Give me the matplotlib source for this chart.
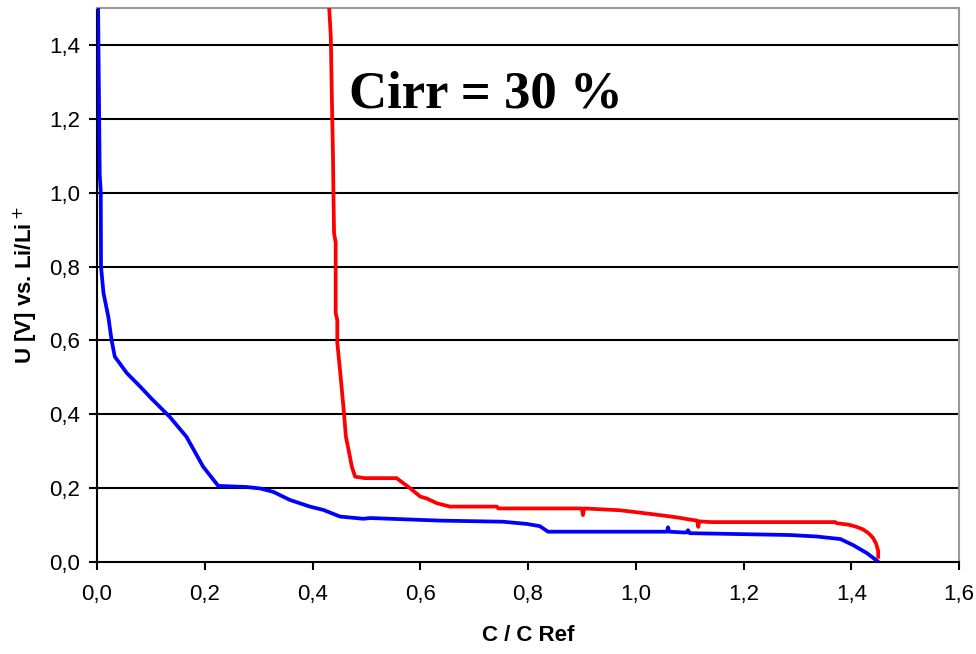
import numpy as np
import matplotlib
matplotlib.use('Agg')
import matplotlib.pyplot as plt
from matplotlib.ticker import FuncFormatter

plt.rcParams['font.family'] = 'Liberation Sans'

# Blue curve (C / C Ref, U)
blue_x = [0.002, 0.004, 0.005, 0.007, 0.0074, 0.012, 0.021, 0.027, 0.033, 0.055,
          0.080, 0.100, 0.135, 0.166, 0.197, 0.225, 0.278, 0.303, 0.327, 0.358,
          0.395, 0.420, 0.451, 0.494, 0.507, 0.637, 0.754, 0.798, 0.822, 0.837,
          1.058, 1.060, 1.062, 1.088, 1.095, 1.097, 1.100, 1.286, 1.336, 1.380,
          1.403, 1.429, 1.448]
blue_y = [1.50, 1.20, 1.05, 1.00, 0.80, 0.728, 0.664, 0.601, 0.556, 0.512,
          0.475, 0.444, 0.393, 0.339, 0.258, 0.206, 0.203, 0.199, 0.190, 0.168,
          0.150, 0.141, 0.123, 0.117, 0.119, 0.112, 0.109, 0.103, 0.097, 0.082,
          0.082, 0.094, 0.082, 0.080, 0.080, 0.086, 0.078, 0.073, 0.069, 0.062,
          0.046, 0.024, 0.003]

# Red curve
red_x = [0.431, 0.434, 0.436, 0.438, 0.439, 0.440, 0.443, 0.443, 0.446, 0.446,
         0.451, 0.455, 0.458, 0.462, 0.467, 0.473, 0.479, 0.497, 0.556, 0.581,
         0.600, 0.612, 0.631, 0.655, 0.742, 0.745, 0.900, 0.902, 0.904, 0.971,
         1.000, 1.055, 1.080, 1.100, 1.114, 1.116, 1.118, 1.140, 1.370, 1.373,
         1.395, 1.410, 1.422, 1.432, 1.440, 1.446, 1.450, 1.450]
red_y = [1.50, 1.42, 1.25, 1.10, 0.98, 0.89, 0.865, 0.674, 0.655, 0.593,
         0.520, 0.457, 0.410, 0.339, 0.303, 0.258, 0.231, 0.227, 0.227, 0.200,
         0.177, 0.172, 0.159, 0.150, 0.150, 0.145, 0.145, 0.127, 0.145, 0.140,
         0.135, 0.125, 0.120, 0.115, 0.112, 0.095, 0.110, 0.108, 0.108, 0.105,
         0.101, 0.095, 0.088, 0.078, 0.066, 0.050, 0.030, 0.014]

x_ticks = [0.0, 0.2, 0.4, 0.6, 0.8, 1.0, 1.2, 1.4, 1.6]
y_ticks = [0.0, 0.2, 0.4, 0.6, 0.8, 1.0, 1.2, 1.4]

fig = plt.figure(figsize=(9.76, 6.54), dpi=100)
ax = fig.add_axes([0.0994, 0.1407, 0.8832, 0.8471])

for y in y_ticks[1:]:
    ax.axhline(y, color='black', linewidth=1.5, zorder=1)

ax.plot(blue_x, blue_y, color='#0000ff', linewidth=2.7, zorder=3)
ax.plot(red_x, red_y, color='#ff0000', linewidth=2.7, zorder=3)

ax.set_xlim(0, 1.6)
ax.set_ylim(0, 1.5)
ax.set_xticks(x_ticks)
ax.set_yticks(y_ticks)
fmt = FuncFormatter(lambda v, p: ('%.1f' % v).replace('.', ','))
ax.xaxis.set_major_formatter(fmt)
ax.yaxis.set_major_formatter(fmt)
ax.tick_params(axis='both', direction='out', length=6, width=1.5, labelsize=16, colors='black')
ax.tick_params(axis='x', pad=10)
ax.tick_params(axis='y', pad=6)

ax.spines['left'].set_linewidth(1.5)
ax.spines['bottom'].set_linewidth(1.5)
ax.spines['top'].set_color('#999999')
ax.spines['right'].set_color('#999999')
ax.spines['top'].set_linewidth(1.5)
ax.spines['right'].set_linewidth(1.5)

ax.set_xlabel('C / C Ref', fontsize=16, fontweight='bold', labelpad=14)
ax.set_ylabel('U [V] vs. Li/Li$^+$', fontsize=16, fontweight='bold', labelpad=7)

ax.text(0.468, 1.23, 'Cirr = 30 %', fontsize=38, fontweight='bold',
        family='Liberation Serif', ha='left', va='baseline')

fig.savefig('out.png', dpi=100)
